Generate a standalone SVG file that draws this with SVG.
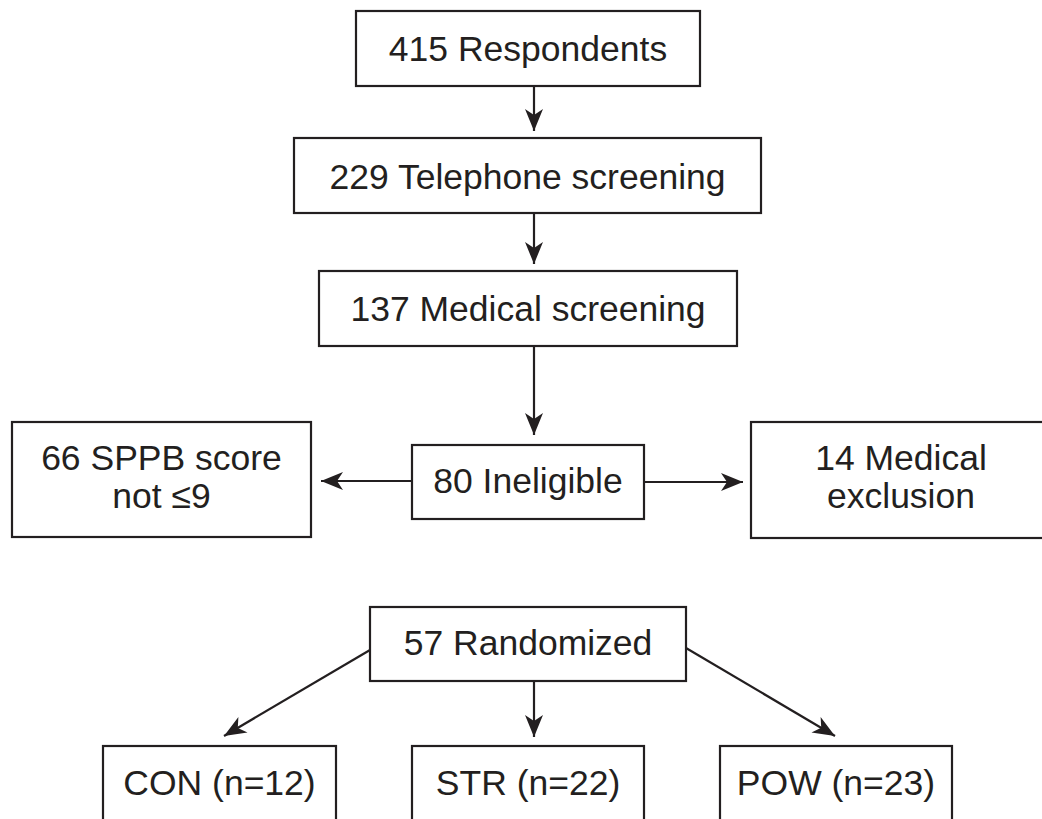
<svg xmlns="http://www.w3.org/2000/svg" width="1042" height="819" viewBox="0 0 1042 819">
<style>
.box{fill:#fff;stroke:#231f20;stroke-width:2.2}
.lbl{font-family:"Liberation Sans",Arial,Helvetica,sans-serif;font-size:35.5px;fill:#231f20;text-anchor:middle}
.edge{stroke:#231f20;stroke-width:2.2;fill:none;marker-end:url(#ah)}
</style>
<defs>
<marker id="ah" markerUnits="userSpaceOnUse" markerWidth="26" markerHeight="22" viewBox="-24 -11 26 22" refX="0" refY="0" orient="auto">
<path d="M0,0 L-22,-9 L-16,0 L-22,9 Z" fill="#231f20"/>
</marker>
</defs>
<rect width="1042" height="819" fill="#fff"/>
<g id="connectors">
<line class="edge" x1="534" y1="86" x2="534" y2="131"/>
<line class="edge" x1="534" y1="213" x2="534" y2="264"/>
<line class="edge" x1="534" y1="346" x2="534" y2="435"/>
<line class="edge" x1="412" y1="481" x2="321" y2="481"/>
<line class="edge" x1="644" y1="482" x2="743" y2="482"/>
<line class="edge" x1="370" y1="650" x2="224" y2="736"/>
<line class="edge" x1="534" y1="681" x2="534" y2="737"/>
<line class="edge" x1="686" y1="648" x2="835" y2="736"/>
</g>
<g id="n415">
<rect class="box" x="356" y="11" width="344" height="75"/>
<text class="lbl" x="528" y="61">415 Respondents</text>
</g>
<g id="n229">
<rect class="box" x="294" y="138" width="467" height="75"/>
<text class="lbl" x="527.5" y="189">229 Telephone screening</text>
</g>
<g id="n137">
<rect class="box" x="319" y="271" width="418" height="75"/>
<text class="lbl" x="528" y="321">137 Medical screening</text>
</g>
<g id="n80">
<rect class="box" x="412" y="445" width="232" height="74"/>
<text class="lbl" x="528" y="493">80 Ineligible</text>
</g>
<g id="n66">
<rect class="box" x="12" y="422" width="299" height="115"/>
<text class="lbl" x="161.5" y="470">66 SPPB score</text>
<text class="lbl" x="161.5" y="508">not ≤9</text>
</g>
<g id="n14">
<rect class="box" x="751" y="422" width="300" height="116"/>
<text class="lbl" x="901" y="470">14 Medical</text>
<text class="lbl" x="901" y="508">exclusion</text>
</g>
<g id="n57">
<rect class="box" x="370" y="607" width="316" height="74"/>
<text class="lbl" x="528" y="655">57 Randomized</text>
</g>
<g id="ncon">
<rect class="box" x="103" y="746" width="233" height="90"/>
<text class="lbl" x="219.5" y="795">CON (n=12)</text>
</g>
<g id="nstr">
<rect class="box" x="412" y="746" width="232" height="90"/>
<text class="lbl" x="528" y="795">STR (n=22)</text>
</g>
<g id="npow">
<rect class="box" x="720" y="746" width="232" height="90"/>
<text class="lbl" x="836" y="795">POW (n=23)</text>
</g>
</svg>
